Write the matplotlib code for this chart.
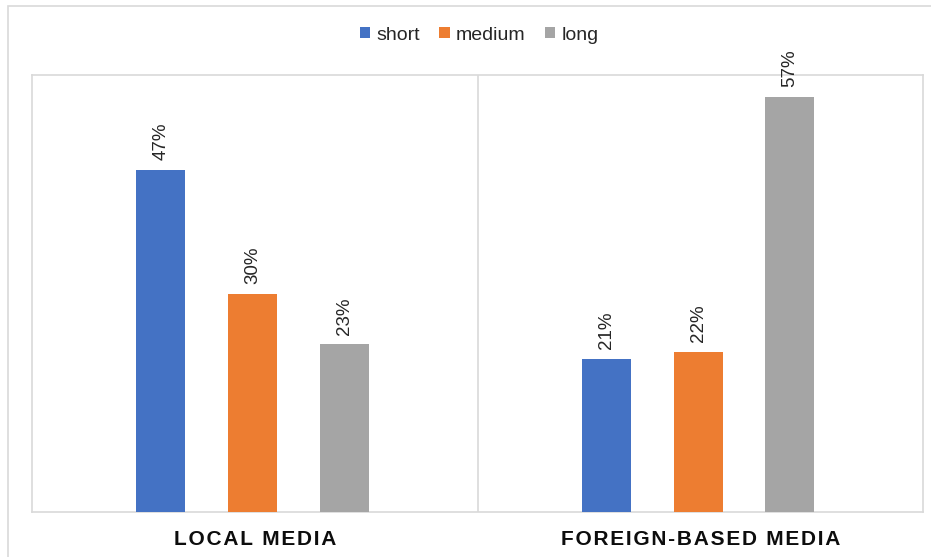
import matplotlib
matplotlib.use("Agg")
import matplotlib.pyplot as plt
from matplotlib.patches import Rectangle
from matplotlib import font_manager
import numpy as np

plt.rcParams['font.family'] = ['Liberation Sans', 'DejaVu Sans']

categories = ["LOCAL MEDIA", "FOREIGN-BASED MEDIA"]
series = ["short", "medium", "long"]
short_vals = [0.47, 0.21]
medium_vals = [0.30, 0.22]
long_vals = [0.23, 0.57]
colors = ["#4472C4", "#ED7D31", "#A5A5A5"]

W, H = 931, 557
fig = plt.figure(figsize=(W / 100, H / 100), dpi=100)
fig.patch.set_facecolor("white")

# outer chart border (top/left visible)
fig.patches.append(Rectangle((8 / W, -0.2), 1.2, (H - 6) / H + 0.2,
                             transform=fig.transFigure, fill=False,
                             edgecolor="#D9D9D9", linewidth=1.2))

ax = fig.add_axes([32 / W, 1 - 512 / H, (923 - 32) / W, (512 - 75) / H])
ax.set_xlim(0, 2)
ax.set_ylim(0, 0.60)

x = np.arange(len(categories)) + 0.5
width = 0.11
step = 0.206
for i, (vals, name, c) in enumerate(zip([short_vals, medium_vals, long_vals], series, colors)):
    xs = x + (i - 1) * step - 0.005
    ax.bar(xs, vals, width, color=c, label=name, zorder=3)
    for xi, v in zip(xs, vals):
        ax.annotate(f"{v * 100:.0f}%", (xi, v), xytext=(0, 7), textcoords="offset points",
                    rotation=90, ha="center", va="bottom", fontsize=13.5, color="#262626")

for s in ax.spines.values():
    s.set_color("#D9D9D9")
    s.set_linewidth(1.2)
ax.axvline(1, color="#D9D9D9", linewidth=1.2, zorder=1)

# category labels: bold narrow caps with extra tracking
names = {f.name for f in font_manager.fontManager.ttflist}
cat_family = ['Liberation Sans Narrow', 'Liberation Sans'] if 'Liberation Sans Narrow' in names else ['Liberation Sans']
ax.set_yticks([])
ax.set_xticks(x)
ax.set_xticklabels(["\u200a".join(c) for c in categories], fontsize=15,
                   fontweight="bold", color="#0D0D0D", family=cat_family)
ax.tick_params(axis="x", length=0, pad=13)

leg = fig.legend(loc="center", bbox_to_anchor=(479 / W, 1 - 35 / H), ncol=3, frameon=False,
                 fontsize=14, handlelength=0.55, handleheight=0.55, handletextpad=0.3,
                 columnspacing=1.0)
for t in leg.get_texts():
    t.set_color("#262626")

fig.savefig("out.png", dpi=100, facecolor="white")
